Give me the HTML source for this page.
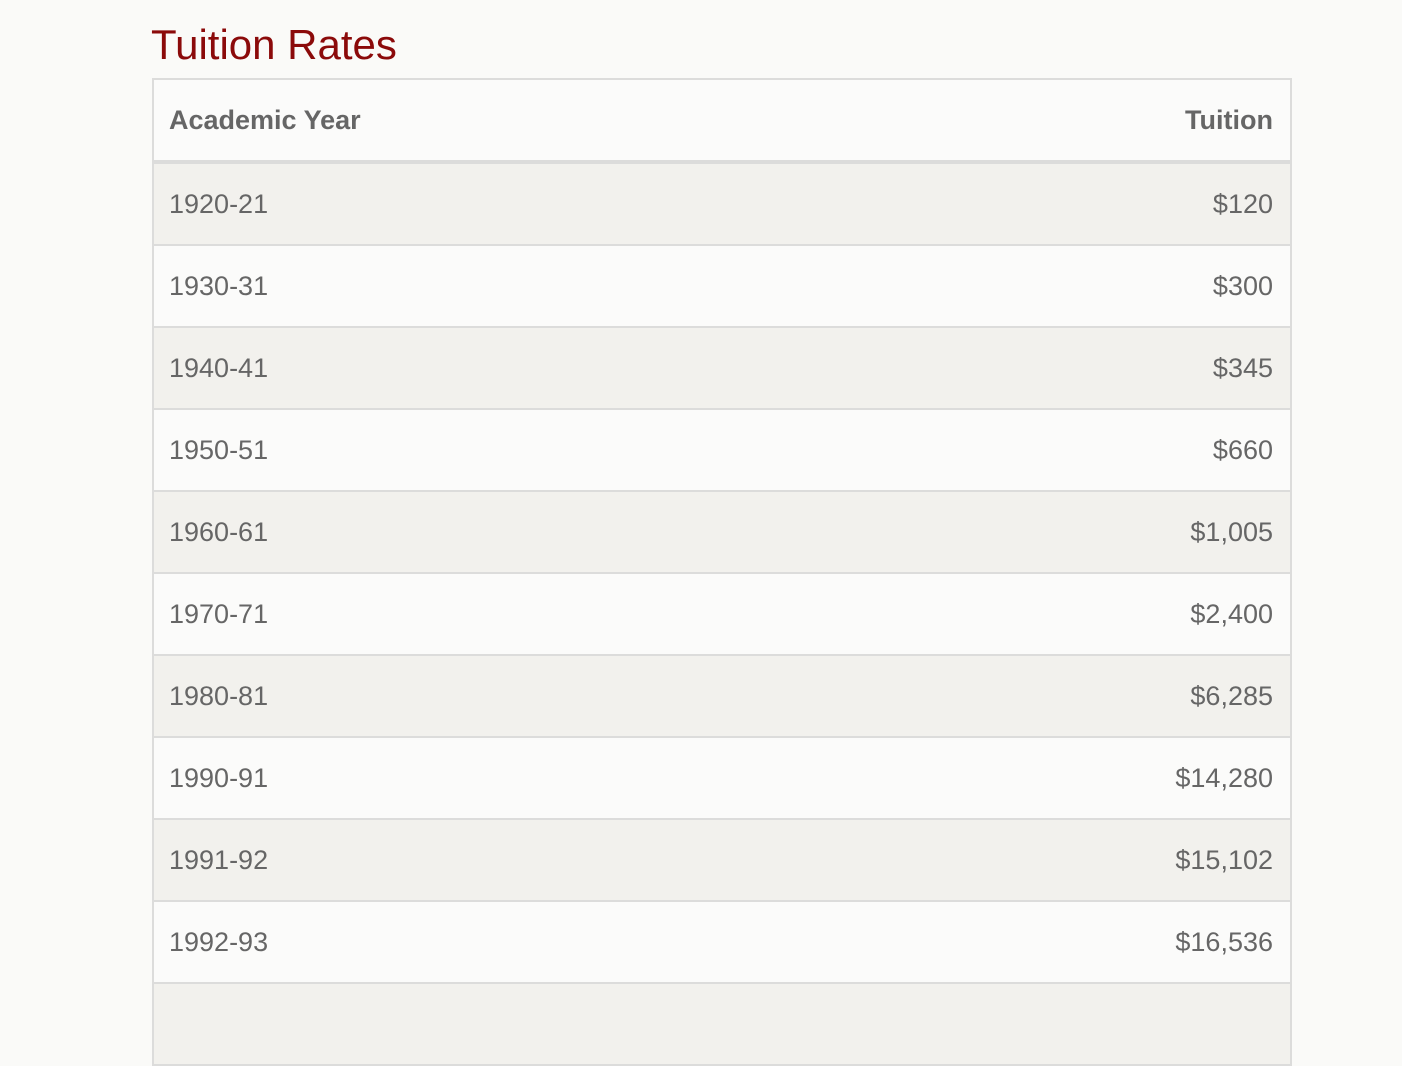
<!DOCTYPE html>
<html><head><meta charset="utf-8"><style>
html,body{margin:0;padding:0;background:#fafaf8;width:1402px;height:996px;overflow:hidden;font-family:"Liberation Sans",sans-serif;}
h1{position:absolute;left:151px;top:20px;margin:0;font-weight:normal;font-size:42px;color:#8b0a0a;line-height:50px;}
.tbl{position:absolute;left:152px;top:78px;width:1136px;border:2px solid #dcdcdb;border-bottom:none;}
.hdr{height:80px;border-bottom:4px solid #dcdcdb;background:#fbfbfa;display:flex;justify-content:space-between;align-items:center;padding:0 17px 0 15px;font-weight:bold;font-size:27px;color:#666;}
.row{height:80px;border-bottom:2px solid #dcdcdb;display:flex;justify-content:space-between;align-items:center;padding:0 17px 0 15px;font-size:27px;color:#666;background:#fbfbfa;}
.row.alt{background:#f2f1ed;}
</style></head><body>
<h1>Tuition Rates</h1>
<div class="tbl">
<div class="hdr"><span>Academic Year</span><span>Tuition</span></div>
<div class="row alt"><span>1920-21</span><span>$120</span></div>
<div class="row"><span>1930-31</span><span>$300</span></div>
<div class="row alt"><span>1940-41</span><span>$345</span></div>
<div class="row"><span>1950-51</span><span>$660</span></div>
<div class="row alt"><span>1960-61</span><span>$1,005</span></div>
<div class="row"><span>1970-71</span><span>$2,400</span></div>
<div class="row alt"><span>1980-81</span><span>$6,285</span></div>
<div class="row"><span>1990-91</span><span>$14,280</span></div>
<div class="row alt"><span>1991-92</span><span>$15,102</span></div>
<div class="row"><span>1992-93</span><span>$16,536</span></div>
<div class="row alt"><span></span><span></span></div>
</div>
</body></html>
